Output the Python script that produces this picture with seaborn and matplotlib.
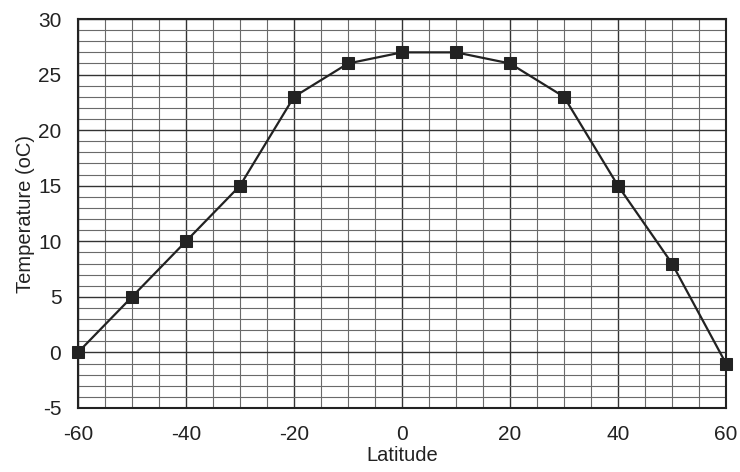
import matplotlib
matplotlib.use("Agg")
import matplotlib.pyplot as plt
import seaborn as sns
import pandas as pd
import numpy as np
from matplotlib.ticker import MultipleLocator

latitude = [-60, -50, -40, -30, -20, -10, 0, 10, 20, 30, 40, 50, 60]
temperature = [0, 5, 10, 15, 23, 26, 27, 27, 26, 23, 15, 8, -1]
x_ticks = [-60, -40, -20, 0, 20, 40, 60]
y_ticks = [-5, 0, 5, 10, 15, 20, 25, 30]

sns.set_style("white")
plt.rcParams['font.family'] = ['Liberation Sans', 'DejaVu Sans']
plt.rcParams['axes.unicode_minus'] = False

df = pd.DataFrame({"Latitude": latitude, "Temperature (oC)": temperature})

fig = plt.figure(figsize=(7.4, 4.72), dpi=100)
ax = fig.add_axes([0.1054, 0.1356, 0.8757, 0.8241])

ax.xaxis.set_minor_locator(MultipleLocator(5))
ax.yaxis.set_minor_locator(MultipleLocator(1))
ax.grid(which="minor", color="#6a6a6a", linewidth=0.8)
ax.grid(which="major", color="#333333", linewidth=1.0)
ax.set_axisbelow(True)

sns.lineplot(data=df, x="Latitude", y="Temperature (oC)", ax=ax, color="#222222",
             linewidth=1.6, marker="s", markersize=9, markeredgecolor="#222222",
             markerfacecolor="#222222", clip_on=False, zorder=5)

ax.set_xlim(-60, 60)
ax.set_ylim(-5, 30)
ax.set_xticks(x_ticks)
ax.set_yticks(y_ticks)
ax.tick_params(axis="both", which="major", direction="out", length=9, width=1.2,
               color="#222222", labelsize=15, labelcolor="#222222", pad=3)
ax.tick_params(which="minor", length=0)
for s in ax.spines.values():
    s.set_color("#222222")
    s.set_linewidth(1.5)
ax.set_xlabel("Latitude", fontsize=14.5, color="#222222", labelpad=2)
ax.set_ylabel("Temperature (oC)", fontsize=14.5, color="#222222", labelpad=2)

fig.savefig("out.png", dpi=100)
